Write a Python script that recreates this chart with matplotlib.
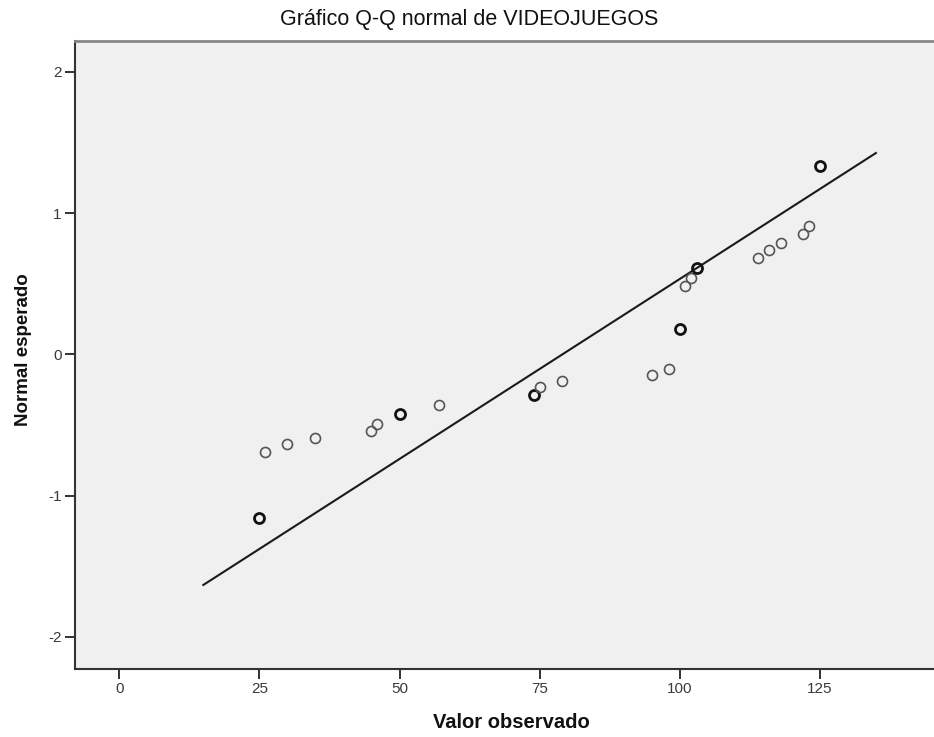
import matplotlib
matplotlib.use("Agg")
import matplotlib.pyplot as plt

plt.rcParams['font.family'] = ['Liberation Sans', 'DejaVu Sans']

observed = [25, 26, 30, 35, 45, 46, 50, 57, 74, 75, 79, 95, 98, 100,
            101, 102, 103, 114, 116, 118, 122, 123, 125]
expected = [-1.16, -0.69, -0.637, -0.59, -0.543, -0.493, -0.425, -0.359,
            -0.288, -0.229, -0.187, -0.146, -0.106, 0.179,
            0.486, 0.538, 0.609, 0.684, 0.738, 0.790, 0.849, 0.908, 1.335]
# points that represent repeated values (drawn heavier)
repeated = [True, False, False, False, False, False, True, False,
            True, False, False, False, False, True,
            False, False, True, False, False, False, False, False, True]

# reference line end points
line_x = [15.0, 135.0]
line_y = [-1.632, 1.425]

x_ticks = [0, 25, 50, 75, 100, 125]
y_ticks = [-2, -1, 0, 1, 2]

title = "Gráfico Q-Q normal de VIDEOJUEGOS"
xlabel = "Valor observado"
ylabel = "Normal esperado"

W, H = 934, 737
fig = plt.figure(figsize=(W / 100, H / 100), dpi=100)
fig.patch.set_facecolor('white')
ax = fig.add_axes([75 / W, (H - 669) / H, (W - 75) / W + 0.002, (669 - 40.7) / H])
ax.set_facecolor('#f0f0f0')

ax.plot(line_x, line_y, color='#1a1a1a', lw=1.5, zorder=2)

for xv, yv, rep in zip(observed, expected, repeated):
    if rep:
        ax.plot(xv, yv, 'o', ms=7.2, mfc='none', mec='#111111', mew=2.0, zorder=3)
    else:
        ax.plot(xv, yv, 'o', ms=7.2, mfc='none', mec='#555555', mew=1.2, zorder=3)

ax.set_xlim(-7.9, 145.7)
ax.set_ylim(-2.227, 2.22)
ax.set_xticks(x_ticks)
ax.set_yticks(y_ticks)
ax.set_xticklabels([str(v) for v in x_ticks])
ax.set_yticklabels([str(v) for v in y_ticks])
ax.tick_params(axis='both', direction='out', length=7.5, width=1.3,
               color='#222222', labelsize=11, labelcolor='#3a3a3a', pad=2)

for side in ['left', 'bottom']:
    ax.spines[side].set_color('#333333')
    ax.spines[side].set_linewidth(1.5)
ax.spines['top'].set_color('#888888')
ax.spines['top'].set_linewidth(2.0)
ax.spines['right'].set_visible(False)

fig.text(469 / W, 1 - 20 / H, title, ha='center', va='center',
         fontsize=15.5, color='#111111')
fig.text(511 / W, 1 - 722 / H, xlabel, ha='center', va='center',
         fontsize=14.5, fontweight='bold', color='#111111')
fig.text(24 / W, 1 - 350 / H, ylabel, ha='center', va='center', rotation=90,
         fontsize=13.5, fontweight='bold', color='#111111')

fig.savefig('out.png', dpi=100)
